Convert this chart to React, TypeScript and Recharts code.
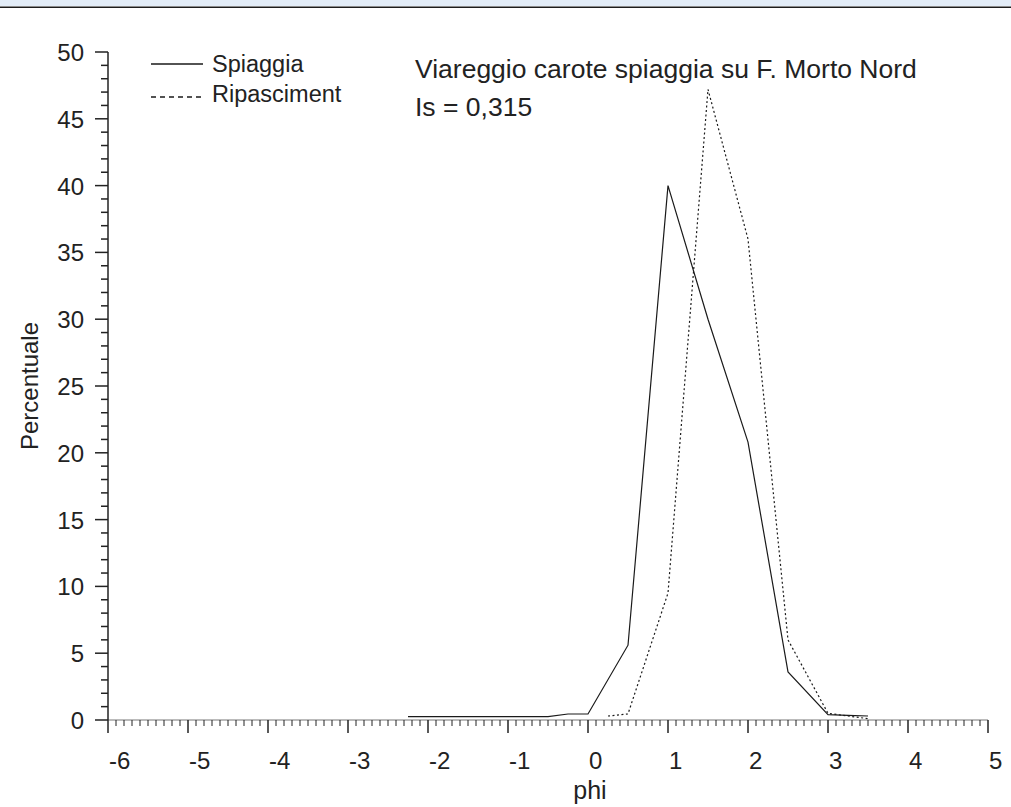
import { LineChart, Line, XAxis, YAxis } from 'recharts';

// valori (phi, percentuale)
const phiSpiaggia = [-2.25, -2, -1.5, -1, -0.5, -0.25, 0, 0.5, 1, 1.5, 2, 2.5, 3, 3.25, 3.5];
const valSpiaggia = [0.25, 0.25, 0.25, 0.25, 0.25, 0.45, 0.45, 5.6, 40, 30, 20.8, 3.6, 0.4, 0.35, 0.3];
const phiRipascimento = [0.25, 0.5, 1, 1.5, 2, 2.5, 3, 3.5];
const valRipascimento = [0.3, 0.45, 9.5, 47.2, 36, 6, 0.5, 0.1];

const xMajorTicks = [-6, -5, -4, -3, -2, -1, 0, 1, 2, 3, 4, 5];
const yMajorTicks = [0, 5, 10, 15, 20, 25, 30, 35, 40, 45, 50];

const title = 'Viareggio carote spiaggia su F. Morto Nord';
const subtitle = 'Is = 0,315';
const seriesNames = ['Spiaggia', 'Ripasciment'];

const FONT = '"Liberation Sans", Arial, sans-serif';
const INK = '#222';

// minor ticks: 0.1 on x, 1 on y
const xTicks: number[] = [];
for (let i = xMajorTicks[0] * 10; i <= xMajorTicks[xMajorTicks.length - 1] * 10; i++) xTicks.push(i / 10);
const yTicks: number[] = [];
for (let i = yMajorTicks[0]; i <= yMajorTicks[yMajorTicks.length - 1]; i++) yTicks.push(i);

const spiaggia = phiSpiaggia.map((phi, i) => ({ phi, v: valSpiaggia[i] }));
const ripascimento = phiRipascimento.map((phi, i) => ({ phi, v: valRipascimento[i] }));

const XTick = ({ x, y, payload }: any) => {
    const v = payload.value;
    const major = xMajorTicks.some(t => Math.abs(t - v) < 1e-6);
    return (
        <g>
            <line x1={x} x2={x} y1={y} y2={y + (major ? 13 : 6)} stroke={INK} strokeWidth={major ? 1.5 : 1} />
            {major && (
                <text x={x + 1} y={y + 49} fontSize={24} fontFamily={FONT} fill={INK} textAnchor="start">
                    {String(Math.round(v))}
                </text>
            )}
        </g>
    );
};

const YTick = ({ x, y, payload }: any) => {
    const v = payload.value;
    const major = yMajorTicks.includes(v);
    return (
        <g>
            <line x1={x - (major ? 13 : 7)} x2={x} y1={y} y2={y} stroke={INK} strokeWidth={1.5} />
            {major && (
                <text x={x - 24} y={y + 9} fontSize={24} fontFamily={FONT} fill={INK} textAnchor="end">
                    {v}
                </text>
            )}
        </g>
    );
};

export default function App() {
    return (
        <div style={{ position: 'absolute', left: 0, top: 0, width: 1011, height: 807, background: '#fff', overflow: 'hidden' }}>
            <div style={{ position: 'absolute', left: 0, top: 0, width: 1011, height: 6, background: '#e2ecf7' }} />
            <div style={{ position: 'absolute', left: 0, top: 6, width: 1011, height: 1, background: '#8a8a8a' }} />
            <div style={{ position: 'absolute', left: 0, top: 7, width: 1011, height: 1, background: '#1c1c1c' }} />

            <LineChart width={1011} height={807} margin={{ top: 52, right: 23, bottom: 86, left: 107 }}>
                <XAxis
                    type="number"
                    dataKey="phi"
                    domain={[-6, 5]}
                    ticks={xTicks}
                    interval={0}
                    height={1}
                    tickSize={0}
                    tickMargin={0}
                    tick={<XTick />}
                    axisLine={{ stroke: '#777', strokeWidth: 1 }}
                    allowDataOverflow
                />
                <YAxis
                    type="number"
                    domain={[0, 50]}
                    ticks={yTicks}
                    interval={0}
                    width={1}
                    tickSize={0}
                    tickMargin={0}
                    tick={<YTick />}
                    axisLine={{ stroke: INK, strokeWidth: 1.5 }}
                    allowDataOverflow
                />
                <Line
                    data={spiaggia}
                    dataKey="v"
                    name={seriesNames[0]}
                    type="linear"
                    stroke="#1a1a1a"
                    strokeWidth={1.2}
                    dot={false}
                    isAnimationActive={false}
                />
                <Line
                    data={ripascimento}
                    dataKey="v"
                    name={seriesNames[1]}
                    type="linear"
                    stroke="#1a1a1a"
                    strokeWidth={1.2}
                    strokeDasharray="2 2.5"
                    dot={false}
                    isAnimationActive={false}
                />
            </LineChart>

            <svg width={1011} height={807} style={{ position: 'absolute', left: 0, top: 0, pointerEvents: 'none' }}>
                {/* legenda */}
                <line x1={151} x2={203} y1={64} y2={64} stroke="#1a1a1a" strokeWidth={1.5} />
                <text x={212} y={72} fontSize={23.5} fontFamily={FONT} fill={INK}>{seriesNames[0]}</text>
                <line x1={151} x2={203} y1={97} y2={97} stroke="#1a1a1a" strokeWidth={1.5} strokeDasharray="5 4" />
                <text x={212} y={102} fontSize={23.5} fontFamily={FONT} fill={INK}>{seriesNames[1]}</text>

                <text x={415} y={78} fontSize={26.5} fontFamily={FONT} fill={INK}>{title}</text>
                <text x={415} y={116} fontSize={26.5} fontFamily={FONT} fill={INK}>{subtitle}</text>

                <text x={590} y={799} fontSize={25} fontFamily={FONT} fill={INK} textAnchor="middle">phi</text>
                <text
                    x={38}
                    y={386}
                    fontSize={24}
                    fontFamily={FONT}
                    fill={INK}
                    textAnchor="middle"
                    transform="rotate(-90 38 386)"
                >
                    Percentuale
                </text>
            </svg>
        </div>
    );
}
